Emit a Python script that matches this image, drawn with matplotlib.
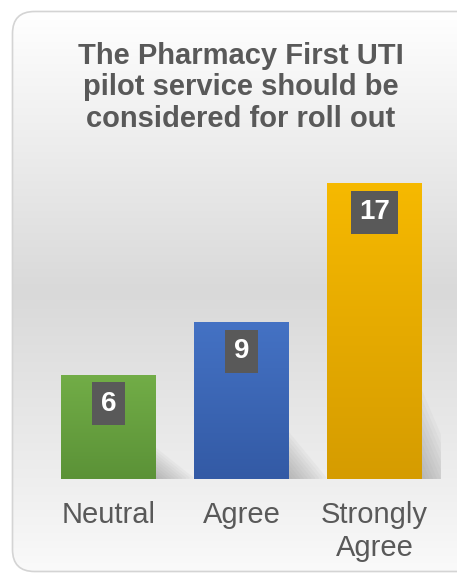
import numpy as np
import matplotlib.pyplot as plt
from matplotlib.patches import FancyBboxPatch, Polygon
from matplotlib.colors import LinearSegmentedColormap

plt.rcParams['font.family'] = ['Liberation Sans', 'DejaVu Sans']

# data
categories = ['Neutral', 'Agree', 'Strongly\nAgree']
values = [6, 9, 17]
title = 'The Pharmacy First UTI\npilot service should be\nconsidered for roll out'

top_colors = ['#72ad47', '#4472c4', '#f6b900']
bottom_colors = ['#5b9237', '#335aa5', '#d59c00']
text_grey = '#595959'

W, H = 457, 574
fig = plt.figure(figsize=(W / 100, H / 100), dpi=100)

# background card with a vertical grey gradient
bg = fig.add_axes([0, 0, 1, 1])
bg.set_xlim(0, W)
bg.set_ylim(H, 0)
bg.axis('off')
card = FancyBboxPatch((12.5, 11.5), 470, 560, boxstyle='round,pad=0,rounding_size=22',
                      facecolor='none', edgecolor='#d4d4d4', linewidth=1.2, zorder=3)
bg.add_patch(card)
grad_cmap = LinearSegmentedColormap.from_list(
    'bg', [(0, '#ffffff'), (0.5, '#d9d9d9'), (0.85, '#efefef'), (1, '#fafafa')])
grad = np.linspace(0, 1, 256).reshape(-1, 1)
im = bg.imshow(grad, cmap=grad_cmap, extent=(12, 483, 572, 11), aspect='auto', zorder=1)
im.set_clip_path(card)

# multi-line text with baseline alignment anchors the last line
bg.text(241, 127, title, ha='center', va='baseline', fontsize=21, fontweight='bold',
        color=text_grey, linespacing=1.16, zorder=4)

# chart area
ax = fig.add_axes([42 / W, (H - 479) / H, 399 / W, 348 / H])
ax.patch.set_visible(False)
ax.set_xlim(-0.5, 2.5)
ax.set_ylim(0, 20)
for s in ax.spines.values():
    s.set_visible(False)
ax.set_yticks([])

x = np.arange(len(values))
bw = 0.714
bars = ax.bar(x, values, width=bw, color='none', zorder=3)

# soft shadows to the right of each bar
for b in bars:
    x0 = b.get_x() + b.get_width()
    h = b.get_height()
    for k in range(10):
        f = 1 - k / 10
        shade = Polygon([(x0, 0), (x0, 0.3 * h * f), (x0 + 0.28 * f, 0.1 * f), (x0 + 0.28 * f, 0)],
                        closed=True, facecolor='#7a7a7a', edgecolor='none', alpha=0.055, zorder=2)
        ax.add_patch(shade)

# gradient fill for each bar
for b, c_top, c_bot in zip(bars, top_colors, bottom_colors):
    cm = LinearSegmentedColormap.from_list('bar', [c_top, c_bot])
    bim = ax.imshow(grad, cmap=cm, aspect='auto', zorder=3,
                    extent=(b.get_x(), b.get_x() + b.get_width(), 0, b.get_height()),
                    origin='upper')
    bim.set_clip_path(b)

ax.set_xlim(-0.5, 2.5)
ax.set_ylim(0, 20)

for xi, v in zip(x, values):
    ax.annotate(str(v), (xi, v), xytext=(0, -29), textcoords='offset pixels',
                ha='center', va='center', fontsize=20, fontweight='bold', color='white',
                bbox=dict(boxstyle='square,pad=0.3', facecolor=text_grey, edgecolor='none'),
                zorder=5)

ax.set_xticks(x)
ax.set_xticklabels(categories, fontsize=21, color=text_grey, linespacing=1.2)
ax.tick_params(axis='x', length=0, pad=16)

fig.savefig('out.png', dpi=100)
